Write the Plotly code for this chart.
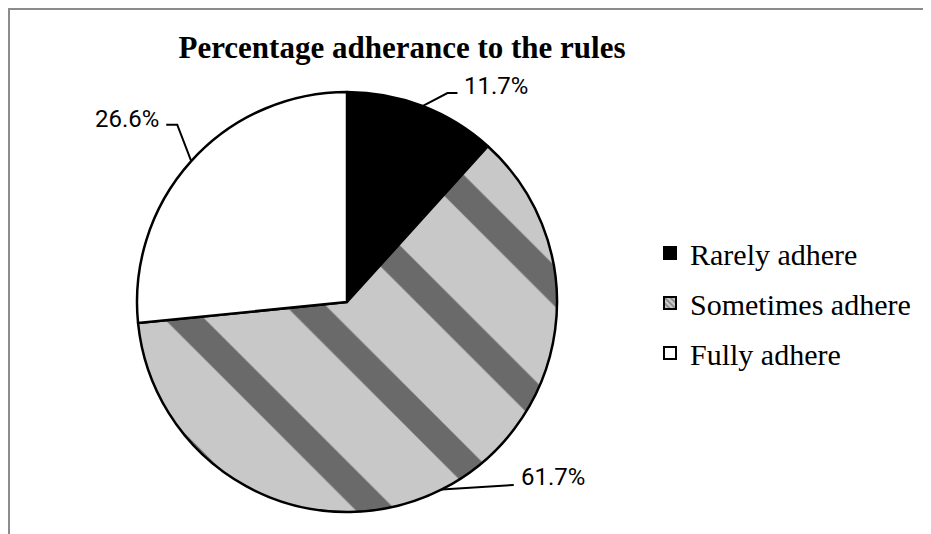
import math
import plotly.graph_objects as go

# ---- data ----
categories = ["Rarely adhere", "Sometimes adhere", "Fully adhere"]
values = [11.7, 61.7, 26.6]
label_texts = ["11.7%", "61.7%", "26.6%"]
title_text = "Percentage adherance to the rules"

# ---- styling / layout constants (screen pixels) ----
W, H = 931, 534
OFF = 8  # page body margin offset
CX, CY, R = 347, 302, 210
slice_colors = ["#000000", "#c8c8c8", "#ffffff"]
pattern_shapes = ["", "\\", ""]
leader_elbow = [(25, -13), (36, -2), (-14, -36.5)]
leader_end = [(35, -13), (72, -4.5), (-25, -36.5)]
label_side = ["left", "left", "right"]
label_dy = [-7, -8, -6]

fig = go.Figure()

fig.update_layout(
    xaxis=dict(range=[OFF, W + OFF], visible=False, fixedrange=True, domain=[0, 1]),
    yaxis=dict(range=[H + OFF, OFF], visible=False, fixedrange=True, domain=[0, 1]),
)

total = sum(values)
cum = 0.0
for i, v in enumerate(values):
    mid = (cum + v / 2) / total * 2 * math.pi
    cum += v
    ex = CX + R * math.sin(mid)
    ey = CY - R * math.cos(mid)
    bx, by = ex + leader_elbow[i][0], ey + leader_elbow[i][1]
    tx, ty = ex + leader_end[i][0], ey + leader_end[i][1]
    fig.add_trace(go.Scatter(
        x=[ex, bx, tx], y=[ey, by, ty], mode="lines",
        line=dict(color="black", width=2), showlegend=False, hoverinfo="skip"))
    fig.add_annotation(
        x=tx + (5 if label_side[i] == "left" else -5), y=ty + label_dy[i],
        xref="x", yref="y", text=label_texts[i], showarrow=False,
        xanchor=label_side[i], yanchor="middle",
        font=dict(family="Roboto", size=24, color="black"))

# legend proxies (pattern-capable squares)
for i, c in enumerate(categories):
    fig.add_trace(go.Bar(
        x=[None], y=[None], name=c, legendgroup=c,
        marker=dict(color=slice_colors[i],
                    line=dict(color="black", width=2),
                    pattern=dict(shape=pattern_shapes[i], size=5, solidity=0.4,
                                 fgcolor="#444444", bgcolor=slice_colors[i])),
        hoverinfo="skip"))

fig.add_trace(go.Pie(
    labels=categories, values=values, sort=False, direction="clockwise",
    rotation=0, textinfo="none", showlegend=False,
    marker=dict(colors=slice_colors, line=dict(color="black", width=2.5),
                pattern=dict(shape=pattern_shapes, size=95, solidity=0.3,
                             fgcolor="#6a6a6a", bgcolor=slice_colors)),
    domain=dict(x=[(CX - R - OFF) / W, (CX + R - OFF) / W],
                y=[1 - (CY + R - OFF) / H, 1 - (CY - R - OFF) / H]),
))

# frame
fig.add_shape(type="line", xref="x", yref="y", x0=8, y0=9, x1=W + OFF, y1=9,
              line=dict(color="#8c8c8c", width=2))
fig.add_shape(type="line", xref="x", yref="y", x0=9, y0=8, x1=9, y1=H + OFF,
              line=dict(color="#8c8c8c", width=2))

fig.update_layout(
    width=W, height=H, margin=dict(l=0, r=0, t=0, b=0),
    paper_bgcolor="white", plot_bgcolor="white",
    title=dict(text="<b>" + title_text + "</b>", x=(402 - OFF) / W, y=1 - (47 - OFF) / H,
               xanchor="center", yanchor="middle",
               font=dict(family="Liberation Serif", size=31, color="black")),
    legend=dict(x=(650 - OFF) / W, y=1 - (303 - OFF) / H, xanchor="left", yanchor="middle",
                font=dict(family="Liberation Serif", size=30, color="black"),
                tracegroupgap=8, traceorder="grouped", bgcolor="rgba(0,0,0,0)",
                itemclick=False, itemdoubleclick=False),
    showlegend=True,
)

fig.write_html("out.html")
